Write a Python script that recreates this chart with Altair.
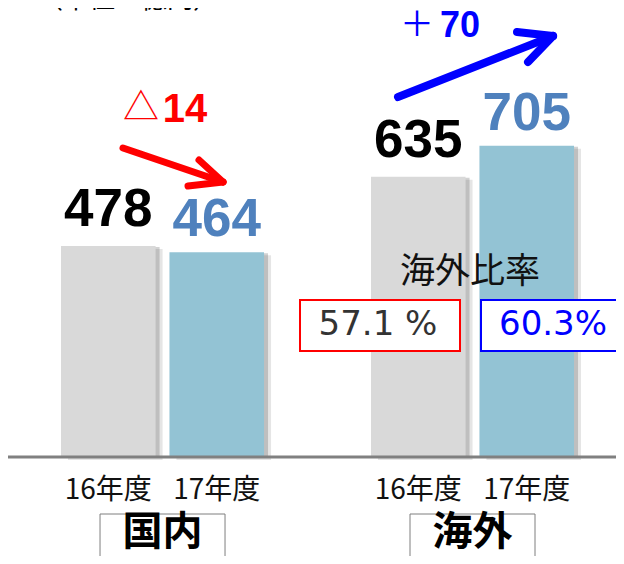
import altair as alt
import pandas as pd

# ---- data ----
groups = ["国内", "国内", "海外", "海外"]
years = ["16年度", "17年度", "16年度", "17年度"]
values = [478, 464, 635, 705]

group_names = ["国内", "海外"]
year_names = ["16年度", "17年度"]

ratio_title = "海外比率"
ratio_labels = ["57.1 %", "60.3%"]
change_signs = ["△", "＋"]
change_numbers = ["14", "70"]
unit_label = "（単位：億円）"

df = pd.DataFrame({"group": groups, "year": years, "value": values})
df["label"] = df["value"].astype(str)
one = pd.DataFrame({"k": [0]})

W, H = 608, 449
PI, PO, AL = 0.345, 0.1532, 0.558


def xs(shift=0):
    sc = dict(type="band", domain=group_names, paddingInner=PI, paddingOuter=PO, align=AL)
    if shift:
        sc["range"] = [shift, W + shift]
    return alt.X("group:N", scale=alt.Scale(**sc), axis=None, sort=group_names)


xo_scale = alt.Scale(type="band", domain=year_names, paddingInner=0.128, paddingOuter=0)
y_scale = alt.Scale(domain=[0, 1017], nice=False, zero=True)

X = xs()
XO = alt.XOffset("year:N", scale=xo_scale, sort=year_names)
Y = alt.Y("value:Q", scale=y_scale, axis=None)

base = alt.Chart(df)

shadow1 = base.mark_bar(yOffset=3, y2Offset=3, color="#5f5f5f", opacity=0.16).encode(x=xs(7), xOffset=XO, y=Y)
shadow2 = base.mark_bar(yOffset=1, y2Offset=1, color="#5f5f5f", opacity=0.28).encode(x=xs(4), xOffset=XO, y=Y)
bars = base.mark_bar().encode(
    x=X, xOffset=XO, y=Y,
    color=alt.Color("year:N", scale=alt.Scale(domain=year_names, range=["#d9d9d9", "#93c3d4"]), legend=None),
)

lab16 = base.transform_filter(alt.datum.year == "16年度").mark_text(
    font="Liberation Sans", fontWeight="bold", fontSize=53, baseline="alphabetic", dy=-20, color="#000000"
).encode(x=X, xOffset=XO, y=Y, text="label:N")
lab17 = base.transform_filter(alt.datum.year == "17年度").mark_text(
    font="Liberation Sans", fontWeight="bold", fontSize=53, baseline="alphabetic", dy=-16, color="#4f81bd"
).encode(x=X, xOffset=XO, y=Y, text="label:N")

baseline = alt.Chart(pd.DataFrame({"v": [0]})).mark_rule(color="#808080", strokeWidth=3).encode(
    y=alt.Y("v:Q", scale=y_scale, axis=None), x=alt.value(0), x2=alt.value(W)
)

year_text = base.mark_text(font="Noto Sans CJK JP", fontSize=28, color="#111111").encode(
    x=X, xOffset=XO, y=alt.value(483), text="year:N"
)

gdf = pd.DataFrame({"group": group_names})
gbox = alt.Chart(gdf).mark_bar(width=125, fill="white", stroke="#7f7f7f", strokeWidth=1).encode(
    x=X, y=alt.value(506), y2=alt.value(580)
)
gtext = alt.Chart(gdf).mark_text(font="Noto Sans CJK JP", fontWeight="bold", fontSize=40, color="#000000").encode(
    x=X, y=alt.value(525), text="group:N"
)


def seg(x1, y1, x2, y2, color, w):
    return alt.Chart(one).mark_rule(color=color, strokeWidth=w, strokeCap="round").encode(
        x=alt.value(x1), y=alt.value(y1), x2=alt.value(x2), y2=alt.value(y2)
    )


red_arrow = [seg(115, 140, 215, 174, "#ff0000", 7), seg(215, 174, 191, 152, "#ff0000", 7), seg(215, 174, 180, 178, "#ff0000", 7)]
blue_arrow = [seg(390, 89, 545, 28, "#0000ff", 8), seg(545, 28, 509, 24, "#0000ff", 8), seg(545, 28, 520, 54, "#0000ff", 8)]


def txt(s, x, y, color, size, font="Liberation Sans", weight="normal", baseline_="middle"):
    return alt.Chart(one).mark_text(
        text=s, font=font, fontSize=size, fontWeight=weight, color=color, align="center", baseline=baseline_
    ).encode(x=alt.value(x), y=alt.value(y))


def box(x1, y1, x2, y2, color):
    return alt.Chart(one).mark_rect(fill="white", stroke=color, strokeWidth=2).encode(
        x=alt.value(x1), y=alt.value(y1), x2=alt.value(x2), y2=alt.value(y2)
    )


annots = [
    txt(unit_label, 120, 5, "#000000", 26, font="Noto Sans CJK JP", baseline_="bottom"),
    txt(change_signs[0], 133, 101, "#ff0000", 36, font="Noto Sans CJK JP"),
    txt(change_numbers[0], 177, 114, "#ff0000", 40, weight="bold", baseline_="alphabetic"),
    txt(change_signs[1], 409, 18, "#0000ff", 34, font="Noto Sans CJK JP"),
    txt(change_numbers[1], 452, 29, "#0000ff", 36, weight="bold", baseline_="alphabetic"),
    txt(ratio_title, 462, 264, "#111111", 35, font="Noto Sans CJK JP"),
    box(292, 292, 452, 343, "#ff0000"),
    box(473, 292, 640, 343, "#0000ff"),
    txt(ratio_labels[0], 370, 317, "#333333", 34, font="DejaVu Sans"),
    txt(ratio_labels[1], 545, 317, "#0000ff", 34, font="DejaVu Sans"),
]

chart = alt.layer(
    shadow1, shadow2, bars, baseline, lab16, lab17, year_text, gbox, gtext,
    *red_arrow, *blue_arrow, *annots
).resolve_scale(x="independent").properties(
    width=W, height=H,
    autosize=alt.AutoSizeParams(type="none"),
    padding={"left": 0, "right": 0, "top": 0, "bottom": 99},
).configure_view(stroke=None)

chart.save("out.html", embed_options={"renderer": "svg", "actions": False})
